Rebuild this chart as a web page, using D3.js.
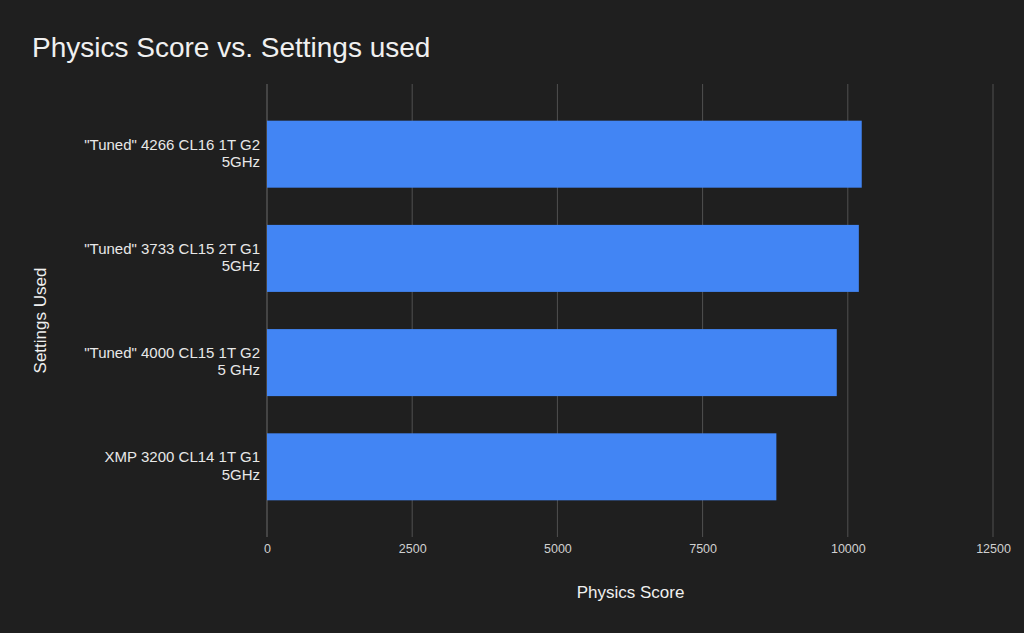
<!DOCTYPE html>
<html><head><meta charset="utf-8">
<script src="https://cdn.jsdelivr.net/npm/d3@7"></script>
<style>html,body{margin:0;padding:0;background:#1f1f1f;}svg{display:block;}</style>
</head><body>
<svg id="c" width="1024" height="633"></svg>
<script>
const categories = [
  ['"Tuned" 4266 CL16 1T G2', '5GHz'],
  ['"Tuned" 3733 CL15 2T G1', '5GHz'],
  ['"Tuned" 4000 CL15 1T G2', '5 GHz'],
  ['XMP 3200 CL14 1T G1', '5GHz']
];
const scores = [10240, 10190, 9810, 8770];
const tickValues = [0, 2500, 5000, 7500, 10000, 12500];
const title = 'Physics Score vs. Settings used';
const xTitle = 'Physics Score';
const yTitle = 'Settings Used';

const svg = d3.select('#c');
const font = "'Liberation Sans', Arial, sans-serif";
svg.append('rect').attr('width',1024).attr('height',633).attr('fill','#1f1f1f');

const plotLeft = 267, plotRight = 993, plotTop = 84, plotBottom = 537;
const x = d3.scaleLinear().domain([0, 12500]).range([plotLeft, plotRight]);
const y = d3.scaleBand().domain(d3.range(categories.length)).range([plotTop, plotBottom]).paddingInner(0.357).paddingOuter(0.352);

// gridlines
svg.append('g').selectAll('line').data(tickValues).join('line')
  .attr('x1', d => x(d)).attr('x2', d => x(d))
  .attr('y1', plotTop).attr('y2', plotBottom)
  .attr('stroke', d => d === 0 ? '#6a6a6a' : '#505050').attr('stroke-width', 1);

// bars
svg.append('g').selectAll('rect').data(scores).join('rect')
  .attr('x', x(0)).attr('y', (d,i) => y(i))
  .attr('width', d => x(d) - x(0)).attr('height', y.bandwidth())
  .attr('fill', '#4285f4');

// x axis tick labels
const xAxis = d3.axisBottom(x).tickValues(tickValues).tickSize(0).tickPadding(0).tickFormat(d3.format('d'));
const gx = svg.append('g').attr('transform', `translate(0,${plotBottom+7})`).call(xAxis);
gx.select('.domain').remove();
gx.selectAll('text').attr('fill','#d0d0d0').attr('font-family',font).attr('font-size',12.5);

// y axis labels
const gy = svg.append('g');
categories.forEach((lines, i) => {
  const cy = y(i) + y.bandwidth()/2;
  const t = gy.append('text').attr('x', 260).attr('text-anchor','end')
    .attr('fill','#e8e8e8').attr('font-family',font).attr('font-size',15);
  lines.forEach((ln, j) => {
    t.append('tspan').attr('x', 260).attr('y', cy - 4.5 + j*17.3).text(ln);
  });
});

// titles
svg.append('text').attr('x', 32).attr('y', 57).attr('fill','#f0f0f0')
  .attr('font-family',font).attr('font-size',28).text(title);
svg.append('text').attr('x', 630.5).attr('y', 598).attr('text-anchor','middle').attr('fill','#f0f0f0')
  .attr('font-family',font).attr('font-size',17).text(xTitle);
svg.append('text').attr('transform','translate(46,320.5) rotate(-90)').attr('text-anchor','middle').attr('fill','#f0f0f0')
  .attr('font-family',font).attr('font-size',17).text(yTitle);
</script>
</body></html>
